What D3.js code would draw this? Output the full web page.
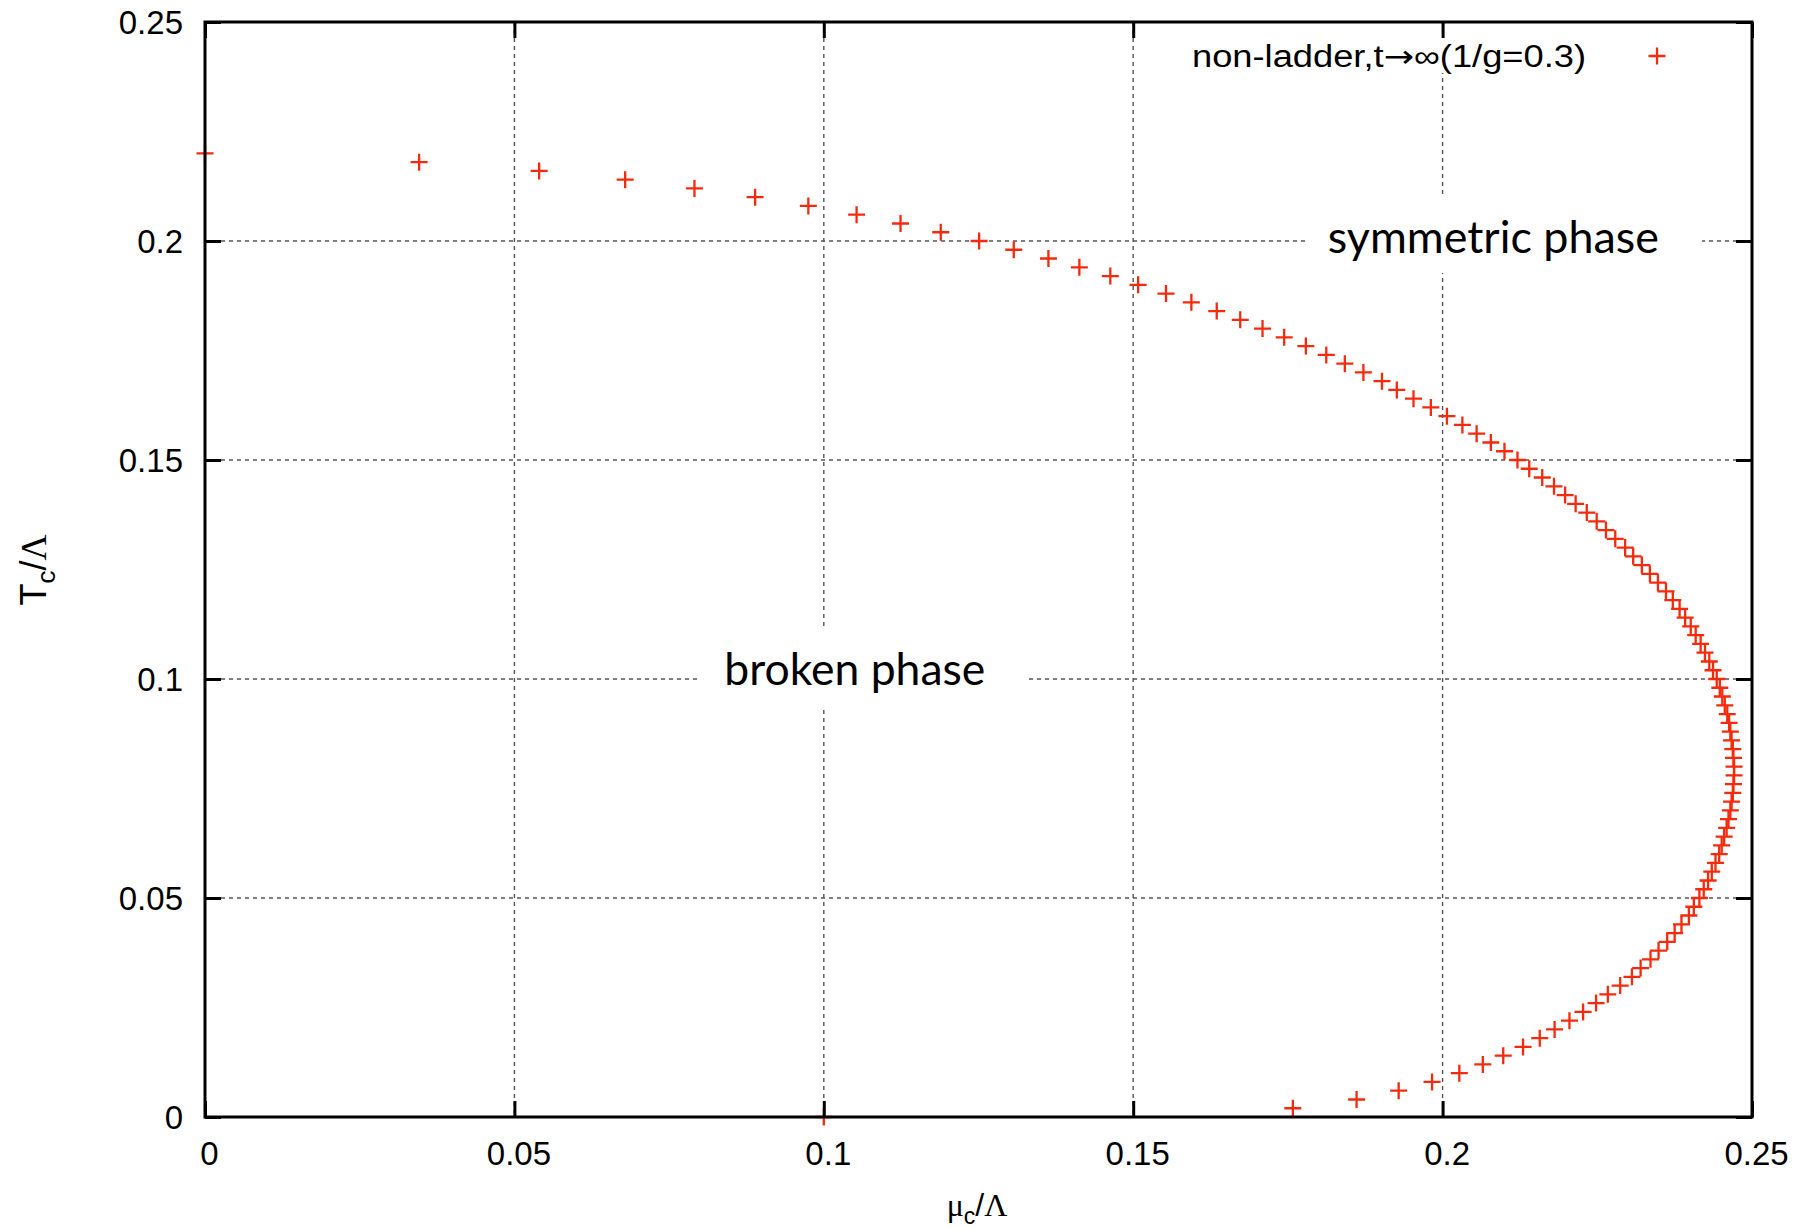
<!DOCTYPE html>
<html>
<head>
<meta charset="utf-8">
<script src="https://cdn.jsdelivr.net/npm/d3@7"></script>
<style>
  html, body { margin: 0; padding: 0; background: #fff; }
  svg { display: block; }
  .tick text { font-family: "Liberation Sans", Arial, sans-serif; font-size: 33px; fill: #000; }
</style>
</head>
<body>
<svg id="chart" width="1807" height="1229"></svg>
<script>
// Critical temperature T_c/Λ (y) and the matching critical chemical potential μ_c/Λ (x)
const tcValues = [
  0.220, 0.218, 0.216, 0.214, 0.212, 0.210, 0.208, 0.206, 0.204, 0.202,
  0.200, 0.198, 0.196, 0.194, 0.192, 0.190, 0.188, 0.186, 0.184, 0.182,
  0.180, 0.178, 0.176, 0.174, 0.172, 0.170, 0.168, 0.166, 0.164, 0.162,
  0.160, 0.158, 0.156, 0.154, 0.152, 0.150, 0.148, 0.146, 0.144, 0.142,
  0.140, 0.138, 0.136, 0.134, 0.132, 0.130, 0.128, 0.126, 0.124, 0.122,
  0.120, 0.118, 0.116, 0.114, 0.112, 0.110, 0.108, 0.106, 0.104, 0.102,
  0.100, 0.098, 0.096, 0.094, 0.092, 0.090, 0.088, 0.086, 0.084, 0.082,
  0.080, 0.078, 0.076, 0.074, 0.072, 0.070, 0.068, 0.066, 0.064, 0.062,
  0.060, 0.058, 0.056, 0.054, 0.052, 0.050, 0.048, 0.046, 0.044, 0.042,
  0.040, 0.038, 0.036, 0.034, 0.032, 0.030, 0.028, 0.026, 0.024, 0.022,
  0.020, 0.018, 0.016, 0.014, 0.012, 0.010, 0.008, 0.006, 0.004, 0.002,
  0.000
];
const muValues = [
  0.0000, 0.0346, 0.0540, 0.0679, 0.0791, 0.0889, 0.0975, 0.1053, 0.1124, 0.1189,
  0.1251, 0.1307, 0.1363, 0.1413, 0.1463, 0.1508, 0.1553, 0.1594, 0.1635, 0.1673,
  0.1709, 0.1744, 0.1779, 0.1812, 0.1842, 0.1872, 0.1902, 0.1926, 0.1953, 0.1981,
  0.2007, 0.2032, 0.2055, 0.2078, 0.2100, 0.2121, 0.2140, 0.2161, 0.2180, 0.2198,
  0.2215, 0.2233, 0.2249, 0.2264, 0.2279, 0.2295, 0.2308, 0.2322, 0.2335, 0.2348,
  0.2361, 0.2372, 0.2383, 0.2392, 0.2401, 0.2409, 0.2417, 0.2424, 0.2431, 0.2437,
  0.2443, 0.2448, 0.2452, 0.2456, 0.2460, 0.2463, 0.2465, 0.2467, 0.2469, 0.2470,
  0.2471, 0.2471, 0.2470, 0.2469, 0.2467, 0.2465, 0.2462, 0.2459, 0.2455, 0.2451,
  0.2447, 0.2441, 0.2435, 0.2429, 0.2422, 0.2415, 0.2406, 0.2398, 0.2386, 0.2375,
  0.2363, 0.2349, 0.2336, 0.2320, 0.2306, 0.2287, 0.2267, 0.2248, 0.2227, 0.2205,
  0.2181, 0.2157, 0.2130, 0.2098, 0.2065, 0.2027, 0.1983, 0.1929, 0.1861, 0.1758,
  0.1000
];

const xTickValues = [0, 0.05, 0.1, 0.15, 0.2, 0.25];
const xTickLabels = ["0", "0.05", "0.1", "0.15", "0.2", "0.25"];
const yTickValues = [0, 0.05, 0.1, 0.15, 0.2, 0.25];
const yTickLabels = ["0", "0.05", "0.1", "0.15", "0.2", "0.25"];
const gridValues = [0.05, 0.1, 0.15, 0.2];

// key text, split so the arrow can use a font with a long arrow glyph
const seriesLabelParts = ["non-ladder,t", "\u2192", "\u221e(1/g=0.3)"];
const regionLabels = [
  { text: "symmetric phase", mu: 0.2082, tc: 0.1973 },
  { text: "broken phase", mu: 0.1050, tc: 0.0986 }
];

const markColor = "#f52a0c";
const plot = { left: 205, right: 1752, top: 22, bottom: 1117 };

const svg = d3.select("#chart");
const x = d3.scaleLinear().domain([0, 0.25]).range([plot.left, plot.right]);
const y = d3.scaleLinear().domain([0, 0.25]).range([plot.bottom, plot.top]);

// dashed grid
const grid = svg.append("g").attr("stroke", "#555").attr("stroke-width", 1.4)
  .attr("stroke-dasharray", "4,4");
grid.selectAll("line.v").data(gridValues).join("line")
  .attr("x1", d => x(d)).attr("x2", d => x(d))
  .attr("y1", plot.top).attr("y2", plot.bottom);
grid.selectAll("line.h").data(gridValues).join("line")
  .attr("y1", d => y(d)).attr("y2", d => y(d))
  .attr("x1", plot.left).attr("x2", plot.right);

// opaque backgrounds behind the key and the region captions
svg.append("rect").attr("x", 1180).attr("y", 38).attr("width", 520).attr("height", 35).attr("fill", "#fff");
svg.append("rect").attr("x", 1306).attr("y", 195).attr("width", 396).attr("height", 78).attr("fill", "#fff");
svg.append("rect").attr("x", 699).attr("y", 626).attr("width", 326).attr("height", 82).attr("fill", "#fff");

// data points as plus markers
const plusPath = "M-8.5,0H8.5M0,-8.5V8.5";
const points = tcValues.map((t, i) => ({ mu: muValues[i], tc: t }));
svg.append("g").selectAll("path").data(points).join("path")
  .attr("d", plusPath)
  .attr("transform", d => `translate(${x(d.mu)},${y(d.tc)})`)
  .attr("stroke", markColor).attr("stroke-width", 2.3).attr("fill", "none");

// axes with inward ticks, mirrored on all four sides
const tickLen = 16;
const axB = svg.append("g").attr("transform", `translate(0,${plot.bottom})`)
  .call(d3.axisBottom(x).tickValues(xTickValues).tickSizeInner(-tickLen).tickSizeOuter(0)
    .tickPadding(25).tickFormat((d, i) => xTickLabels[i]));
const axT = svg.append("g").attr("transform", `translate(0,${plot.top})`)
  .call(d3.axisTop(x).tickValues(xTickValues).tickSizeInner(-tickLen).tickSizeOuter(0).tickFormat(""));
const axL = svg.append("g").attr("transform", `translate(${plot.left},0)`)
  .call(d3.axisLeft(y).tickValues(yTickValues).tickSizeInner(-tickLen).tickSizeOuter(0)
    .tickPadding(22).tickFormat((d, i) => yTickLabels[i]));
const axR = svg.append("g").attr("transform", `translate(${plot.right},0)`)
  .call(d3.axisRight(y).tickValues(yTickValues).tickSizeInner(-tickLen).tickSizeOuter(0).tickFormat(""));
[axB, axT, axL, axR].forEach(a => {
  a.select(".domain").remove();
  a.selectAll(".tick line").attr("stroke", "#000").attr("stroke-width", 3);
});
axB.selectAll(".tick text").attr("dx", 4);
axL.selectAll(".tick text").attr("dy", "0.36em");

// frame
svg.append("rect")
  .attr("x", plot.left).attr("y", plot.top)
  .attr("width", plot.right - plot.left).attr("height", plot.bottom - plot.top)
  .attr("fill", "none").attr("stroke", "#000").attr("stroke-width", 3);

// axis titles
const xt = svg.append("text").attr("x", 977).attr("y", 1216).attr("text-anchor", "middle")
  .attr("font-size", 32).attr("fill", "#000");
xt.append("tspan").attr("font-family", "Liberation Serif, serif").text("\u03bc");
xt.append("tspan").attr("font-family", "Liberation Sans, sans-serif").attr("font-size", 23).attr("dy", 8).text("c");
xt.append("tspan").attr("font-family", "Liberation Sans, sans-serif").attr("dy", -8).text("/");
xt.append("tspan").attr("font-family", "Liberation Serif, serif").text("\u039b");

const yt = svg.append("text").attr("transform", "translate(46,570) rotate(-90)")
  .attr("text-anchor", "middle").attr("font-size", 36).attr("fill", "#000")
  .attr("font-family", "Liberation Sans, sans-serif");
yt.append("tspan").text("T");
yt.append("tspan").attr("font-size", 26).attr("dy", 9).text("c");
yt.append("tspan").attr("dy", -9).text("/");
yt.append("tspan").attr("font-family", "Liberation Serif, serif").text("\u039b");

// key
const key = svg.append("text").attr("x", 1586).attr("y", 67).attr("text-anchor", "end")
  .attr("font-family", "Liberation Sans, Arial, sans-serif").attr("font-size", 31)
  .attr("textLength", 394).attr("lengthAdjust", "spacingAndGlyphs")
  .attr("fill", "#000");
key.append("tspan").text(seriesLabelParts[0]);
key.append("tspan").attr("font-family", "DejaVu Sans, sans-serif").text(seriesLabelParts[1]);
key.append("tspan").text(seriesLabelParts[2]);
svg.append("path").attr("d", plusPath).attr("transform", "translate(1657,56)")
  .attr("stroke", markColor).attr("stroke-width", 2.3).attr("fill", "none");

// region captions
svg.append("g").selectAll("text").data(regionLabels).join("text")
  .attr("x", d => x(d.mu)).attr("y", d => y(d.tc))
  .attr("text-anchor", "middle")
  .attr("font-family", "Lato, 'Open Sans', sans-serif").attr("font-size", 44)
  .attr("textLength", (d, i) => i === 0 ? 331 : 261).attr("lengthAdjust", "spacingAndGlyphs")
  .attr("fill", "#000").text(d => d.text);
</script>
</body>
</html>
